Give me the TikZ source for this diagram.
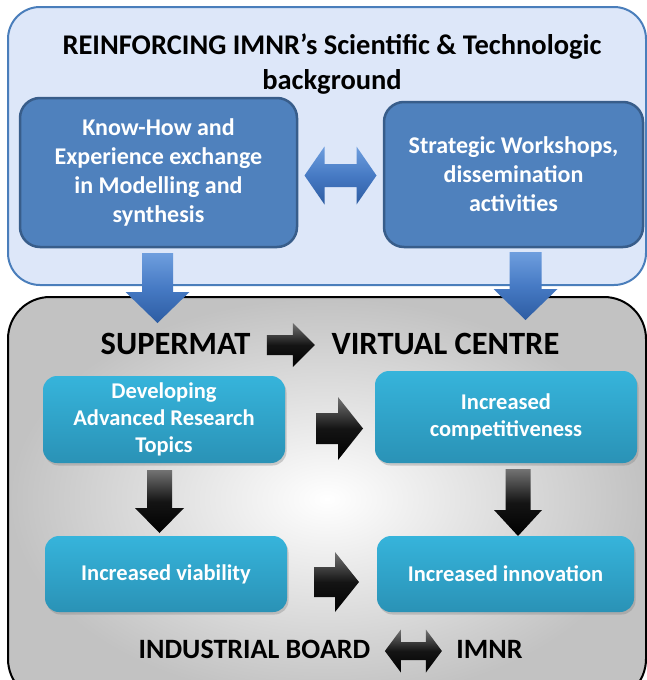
\documentclass[tikz,border=0pt]{standalone}
\usepackage{fontspec}
\setmainfont{Carlito}
\usetikzlibrary{shadows,calc}
\definecolor{topfill}{RGB}{221,231,249}
\definecolor{topdraw}{RGB}{74,126,187}
\definecolor{darkfill}{RGB}{79,129,189}
\definecolor{darkdraw}{RGB}{56,93,138}
\definecolor{cyantop}{RGB}{54,180,219}
\definecolor{cyanbot}{RGB}{42,146,182}
\definecolor{blueA}{RGB}{110,158,222}
\definecolor{blueB}{RGB}{70,122,196}
\definecolor{blueC}{RGB}{45,92,162}
\newcommand\blockarrow[7]{%
  \begin{scope}[shift={#2}, rotate=#3]
    \path[#1] ({-#4/2},{-#6/2}) -- ({#4/2-#7},{-#6/2}) -- ({#4/2-#7},{-#5/2}) -- ({#4/2},0)
      -- ({#4/2-#7},{#5/2}) -- ({#4/2-#7},{#6/2}) -- ({-#4/2},{#6/2}) -- cycle;
  \end{scope}}
\newcommand\dblarrow[7]{%
  \begin{scope}[shift={#2}, rotate=#3]
    \path[#1] ({-#4/2},0) -- ({-#4/2+#7},{-#5/2}) -- ({-#4/2+#7},{-#6/2}) -- ({#4/2-#7},{-#6/2})
      -- ({#4/2-#7},{-#5/2}) -- ({#4/2},0) -- ({#4/2-#7},{#5/2}) -- ({#4/2-#7},{#6/2})
      -- ({-#4/2+#7},{#6/2}) -- ({-#4/2+#7},{#5/2}) -- cycle;
  \end{scope}}
\begin{document}
\begin{tikzpicture}[x=1pt,y=-1pt,
  topbox/.style={draw=topdraw, line width=2pt, fill=topfill, rounded corners=32pt, inner sep=0pt},
  graybox/.style={draw=black, line width=2pt, rounded corners=42pt, inner color=white, outer color=black!24, inner sep=0pt},
  darkbox/.style={draw=darkdraw, line width=2.5pt, fill=darkfill, rounded corners=20pt, inner sep=0pt,
    text=white, align=center, font=\fontsize{24}{29}\selectfont\bfseries},
  cyanbox/.style={rounded corners=14pt, top color=cyantop, bottom color=cyanbot, inner sep=0pt,
    drop shadow={opacity=0.35, shadow xshift=1.5pt, shadow yshift=-2.5pt},
    text=white, align=center, font=\fontsize{22.5}{27}\selectfont\bfseries},
  title/.style={align=center, font=\fontsize{28.5}{35}\selectfont\bfseries},
  big/.style={font=\fontsize{32.5}{36}\selectfont\bfseries},
  bottomlbl/.style={font=\fontsize{28}{32}\selectfont\bfseries},
  bluearr/.style={top color=blueA, bottom color=blueC, middle color=blueB},
  blackarr/.style={top color=black!55, bottom color=black, middle color=black!92}
]
\useasboundingbox (0,0) rectangle (647,680);
\clip (0,0) rectangle (647,680);
% containers
\node[topbox, minimum width=638pt, minimum height=278pt] (top) at (327,146) {};
\node[graybox, minimum width=638pt, minimum height=404pt] (bottom) at (327,499) {};
% top content
\node[title] (ttl) at (332,64.5) {REINFORCING IMNR’s Scientific \& Technologic\\background};
\node[darkbox, minimum width=277pt, minimum height=149pt] (kh) at (158.5,172.5)
  {Know-How and\\Experience exchange\\in Modelling and\\synthesis};
\node[darkbox, minimum width=259pt, minimum height=145pt] (sw) at (513.5,174.5)
  {Strategic Workshops,\\dissemination\\activities};
% bottom content
\node[big] (sup) at (175.5,344) {SUPERMAT};
\node[big] (vc) at (445.5,344) {VIRTUAL CENTRE};
\node[cyanbox, minimum width=242pt, minimum height=87pt] (dev) at (164,419.5)
  {Developing\\Advanced Research\\Topics};
\node[cyanbox, minimum width=262pt, minimum height=92pt] (comp) at (506,417)
  {Increased\\competitiveness};
\node[cyanbox, minimum width=242pt, minimum height=76pt] (via) at (166,574)
  {Increased viability};
\node[cyanbox, minimum width=257pt, minimum height=76pt] (inn) at (505.5,574)
  {Increased innovation};
\node[bottomlbl] (ib) at (254.5,649) {INDUSTRIAL BOARD};
\node[bottomlbl] (imnr) at (489.5,649) {IMNR};
% connectors (block arrows)
\dblarrow{bluearr}{($(kh.east)!0.5!(sw.west)+(0,2)$)}{0}{72}{58}{23}{20}
\blockarrow{bluearr}{(157.5,288)}{-90}{70}{64}{31}{31}
\blockarrow{bluearr}{(525.5,286)}{-90}{68}{64}{32}{31}
\blockarrow{blackarr}{($(sup.east)!0.5!(vc.west)+(0,1)$)}{0}{48}{44}{20}{22}
\blockarrow{blackarr}{(339.5,428.5)}{0}{47}{63}{31}{25}
\blockarrow{blackarr}{(336.5,582)}{0}{45}{60}{30}{24}
\blockarrow{blackarr}{(159.5,501.5)}{-90}{63}{49}{25}{25}
\blockarrow{blackarr}{(518,502.5)}{-90}{67}{48}{25}{26}
\dblarrow{blackarr}{($(ib.east)!0.5!(imnr.west)+(0,2)$)}{0}{57}{43}{18}{16}
\end{tikzpicture}
\end{document}
